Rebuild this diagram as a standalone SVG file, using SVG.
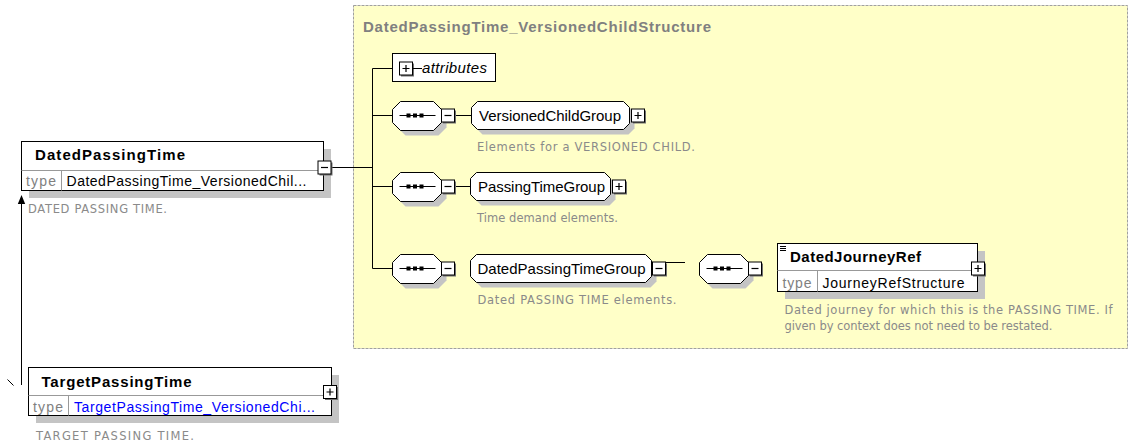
<svg xmlns="http://www.w3.org/2000/svg" width="1129" height="444" viewBox="0 0 1129 444">
<defs>
<style>
.bx{fill:#fff;stroke:#000;stroke-width:1}
.sh{fill:#c4c4c4}
.ln{stroke:#000;stroke-width:1;fill:none}
.dv{stroke:#999;stroke-width:1;fill:none}
.nm{font-family:"Liberation Sans",Arial,sans-serif;font-size:15px;font-weight:bold;fill:#000}
.tp{font-family:"Liberation Sans",Arial,sans-serif;font-size:14px;fill:#808080}
.tv{font-family:"Liberation Sans",Arial,sans-serif;font-size:14px;fill:#000}
.tl{font-family:"Liberation Sans",Arial,sans-serif;font-size:14px;fill:#0000ff}
.gl{font-family:"Liberation Sans",Arial,sans-serif;font-size:15px;fill:#000}
.ti{font-family:"Liberation Sans",Arial,sans-serif;font-size:15px;font-weight:bold;fill:#808080}
.at{font-family:"Liberation Sans",Arial,sans-serif;font-size:15px;font-style:italic;fill:#000}
.ds{font-family:"DejaVu Sans",Verdana,sans-serif;font-size:11.5px;fill:#8a8a8a}
</style>
<g id="pbox"><rect x="1.5" y="1.5" width="13" height="13" fill="#707070"/><rect x="0" y="0" width="13" height="13" fill="#fff" stroke="#000"/><path d="M3,6.5H10M6.5,3V10" stroke="#000" stroke-width="1.2"/></g>
<g id="mbox"><rect x="1.5" y="1.5" width="13" height="13" fill="#707070"/><rect x="0" y="0" width="13" height="13" fill="#fff" stroke="#000"/><path d="M3,6.5H10" stroke="#000" stroke-width="1.2"/></g>
<g id="seq">
<path class="sh" d="M13,-9H46L54,-1V12L46,20H13L5,12V-1Z"/>
<path class="bx" d="M8,-14H41L49,-6V7L41,15H8L0,7V-6Z"/>
<path d="M7,0H43" stroke="#000"/>
<rect x="14" y="-2" width="4" height="4" fill="#000"/>
<rect x="20.5" y="-2" width="4" height="4" fill="#000"/>
<rect x="27" y="-2" width="4" height="4" fill="#000"/>
<use href="#mbox" x="49" y="-6.5"/>
</g>
</defs>

<rect x="0" y="0" width="1129" height="444" fill="#fff"/>

<g id="panel">
<rect x="353.5" y="5.5" width="774" height="343" fill="#ffffc8" stroke="#a0a0a0" stroke-dasharray="3,1"/>
<text class="ti" x="363" y="31.5" textLength="348" lengthAdjust="spacing">DatedPassingTime_VersionedChildStructure</text>
</g>

<g id="connectors">
<path class="ln" d="M331,167.5H372.5M372.5,68.5V268.5M372.5,68.5H392.5M372.5,115.5H392.5M372.5,186.5H392.5M372.5,268.5H392.5"/>
<path class="ln" d="M455,115.5H471.5M455,186.5H470.5"/>
<path class="ln" d="M666,262.5H685"/>
<path class="ln" d="M21.5,385V204"/>
<path d="M21.5,195L17.8,204H25.2Z" fill="#000"/>
<path class="ln" d="M7.5,379.5L13.5,385.5"/>
</g>

<g id="DatedPassingTime">
<rect class="sh" x="29" y="149" width="302" height="49"/>
<rect class="bx" x="21.5" y="141.5" width="302" height="49"/>
<path class="dv" d="M21.5,170.5H323.5M61.5,170.5V190.5"/>
<text class="nm" x="35" y="160" textLength="150" lengthAdjust="spacing">DatedPassingTime</text>
<text class="tp" x="26" y="186" textLength="30" lengthAdjust="spacing">type</text>
<text class="tv" x="66.5" y="186" textLength="240" lengthAdjust="spacing">DatedPassingTime_VersionedChil...</text>
<use href="#mbox" x="318" y="161"/>
<text class="ds" x="28" y="213" textLength="139" lengthAdjust="spacing">DATED PASSING TIME.</text>
</g>

<g id="TargetPassingTime">
<rect class="sh" x="36" y="375" width="303" height="48"/>
<rect class="bx" x="28.5" y="367.5" width="303" height="48"/>
<path class="dv" d="M28.5,395.5H331.5M68.5,395.5V415.5"/>
<text class="nm" x="41.5" y="386.5" textLength="150" lengthAdjust="spacing">TargetPassingTime</text>
<text class="tp" x="33" y="411.5" textLength="30" lengthAdjust="spacing">type</text>
<text class="tl" x="74" y="411.5" textLength="241" lengthAdjust="spacing">TargetPassingTime_VersionedChi...</text>
<use href="#pbox" x="323.5" y="385.5"/>
<text class="ds" x="36" y="440" textLength="158" lengthAdjust="spacing">TARGET PASSING TIME.</text>
</g>

<g id="attributes">
<rect class="bx" x="392.5" y="53.5" width="103" height="28"/>
<use href="#pbox" x="399.5" y="62"/>
<path class="ln" d="M413,68.5H422"/>
<text class="at" x="422" y="73" textLength="65" lengthAdjust="spacing">attributes</text>
</g>

<g id="seq1"><use href="#seq" transform="translate(392.5,115.5)"/></g>
<g id="seq2"><use href="#seq" transform="translate(392.5,186.5)"/></g>
<g id="seq3"><use href="#seq" transform="translate(392.5,268.5)"/></g>
<g id="seq4"><use href="#seq" transform="translate(699.5,268.5)"/></g>

<g id="VersionedChildGroup">
<path class="sh" transform="translate(476.5,120.5)" d="M6,-14H152L158,-8V8L152,14H6L0,8V-8Z"/>
<path class="bx" transform="translate(471.5,115.5)" d="M6,-14H152L158,-8V8L152,14H6L0,8V-8Z"/>
<text class="gl" x="479" y="121" textLength="142" lengthAdjust="spacing">VersionedChildGroup</text>
<use href="#pbox" x="631.5" y="109"/>
<text class="ds" x="477" y="150.5" textLength="218" lengthAdjust="spacing">Elements for a VERSIONED CHILD.</text>
</g>

<g id="PassingTimeGroup">
<path class="sh" transform="translate(475.5,191.5)" d="M6,-14H134L140,-8V8L134,14H6L0,8V-8Z"/>
<path class="bx" transform="translate(470.5,186.5)" d="M6,-14H134L140,-8V8L134,14H6L0,8V-8Z"/>
<text class="gl" x="478" y="192" textLength="127" lengthAdjust="spacing">PassingTimeGroup</text>
<use href="#pbox" x="612.5" y="180"/>
<text class="ds" x="477" y="221.5" textLength="141" lengthAdjust="spacing">Time demand elements.</text>
</g>

<g id="DatedPassingTimeGroup">
<path class="sh" transform="translate(475.5,273.5)" d="M6,-14H175L181,-8V8L175,14H6L0,8V-8Z"/>
<path class="bx" transform="translate(470.5,268.5)" d="M6,-14H175L181,-8V8L175,14H6L0,8V-8Z"/>
<text class="gl" x="477.5" y="274" textLength="168" lengthAdjust="spacing">DatedPassingTimeGroup</text>
<use href="#mbox" x="652.5" y="262"/>
<text class="ds" x="477.5" y="303.5" textLength="199" lengthAdjust="spacing">Dated PASSING TIME elements.</text>
</g>

<g id="DatedJourneyRef">
<rect class="sh" x="785" y="251" width="200" height="48"/>
<rect class="bx" x="777.5" y="243.5" width="200" height="48"/>
<path class="dv" d="M777.5,270.5H977.5M817.5,270.5V291.5"/>
<path class="ln" d="M780,246.5H786M780,248.5H786M780,250.5H786"/>
<text class="nm" x="790" y="262" textLength="131" lengthAdjust="spacing">DatedJourneyRef</text>
<text class="tp" x="782.5" y="288" textLength="29" lengthAdjust="spacing">type</text>
<text class="tv" x="822.5" y="288" textLength="142" lengthAdjust="spacing">JourneyRefStructure</text>
<use href="#pbox" x="971.5" y="262"/>
<text class="ds" x="784.5" y="313.5" textLength="328" lengthAdjust="spacing">Dated journey for which this is the PASSING TIME. If</text>
<text class="ds" x="784.5" y="329.5" textLength="268" lengthAdjust="spacing">given by context does not need to be restated.</text>
</g>
</svg>
